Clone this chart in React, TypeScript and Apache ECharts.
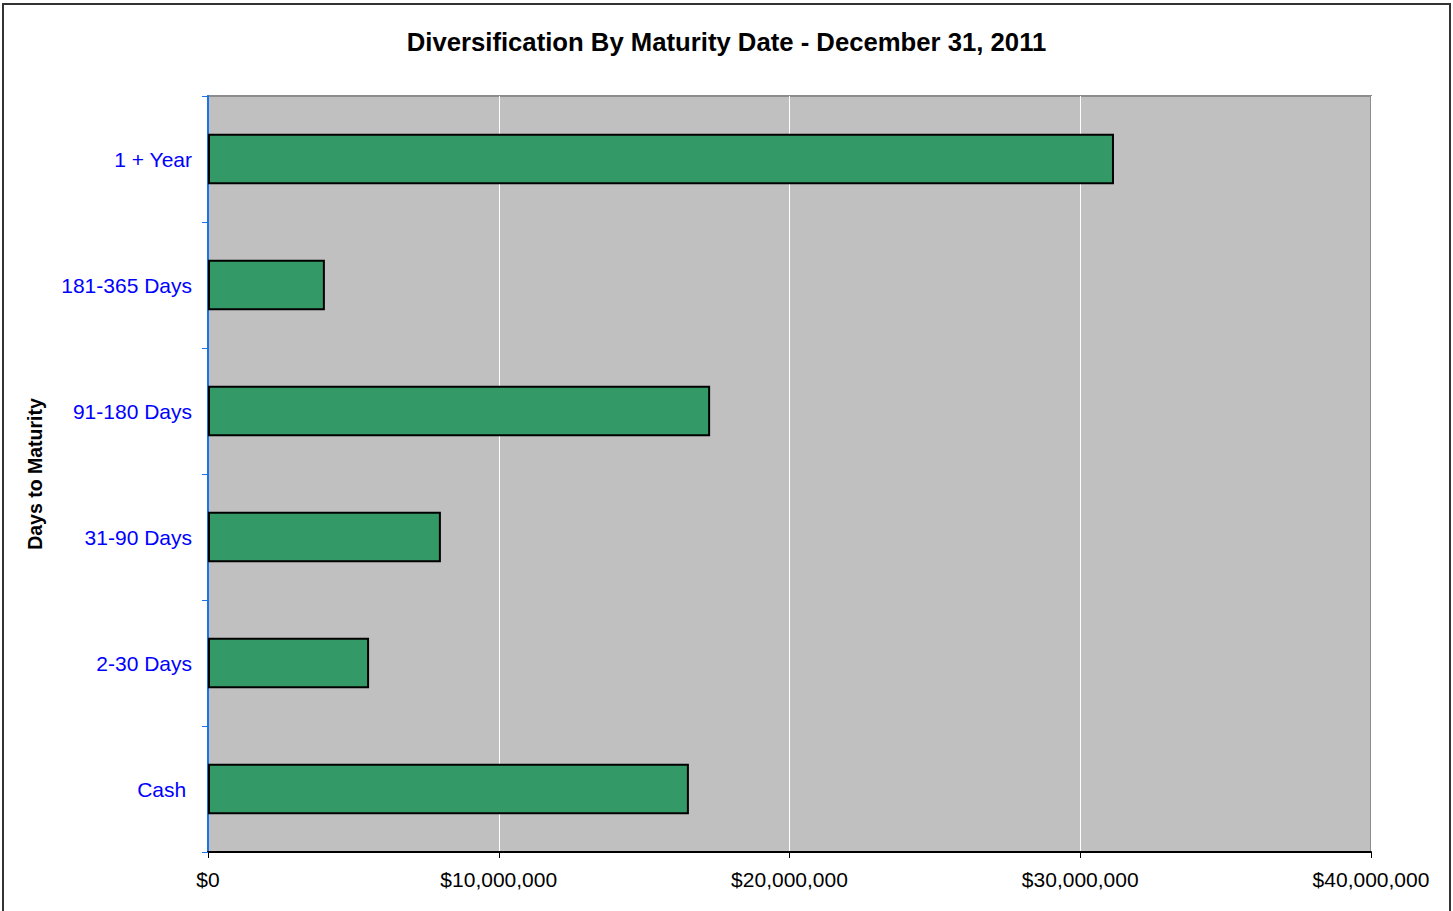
import React, { useEffect, useRef } from "react";
import * as echarts from "echarts";

const categories = ["Cash ", "2-30 Days", "31-90 Days", "91-180 Days", "181-365 Days", "1 + Year"];
const values = [16540000, 5540000, 8010000, 17270000, 4020000, 31160000];
const xTicks = [0, 10000000, 20000000, 30000000, 40000000];

const fmt = (v: number) => "$" + v.toLocaleString("en-US");

export default function App() {
  const ref = useRef<HTMLDivElement>(null);
  useEffect(() => {
    document.body.style.margin = "0";
    const chart = echarts.init(ref.current!, null, { renderer: "svg" });
    chart.setOption({
      animation: false,
      backgroundColor: "#ffffff",
      title: {
        text: "Diversification By Maturity Date - December 31, 2011",
        left: "center",
        top: 24,
        textStyle: { fontFamily: "Liberation Sans", fontSize: 25.7, fontWeight: "bold", color: "#000" },
      },
      graphic: [
        {
          type: "rect",
          shape: { x: 3, y: 4, width: 1447, height: 920 },
          style: { fill: "none", stroke: "#333333", lineWidth: 2 },
          silent: true,
        },
      ],
      grid: {
        left: 208,
        right: 82,
        top: 96,
        bottom: 59,
        show: true,
        backgroundColor: "#c0c0c0",
        borderColor: "#8c8c8c",
        borderWidth: 2,
      },
      xAxis: {
        type: "value",
        min: xTicks[0],
        max: xTicks[xTicks.length - 1],
        interval: xTicks[1] - xTicks[0],
        axisLine: { show: true, lineStyle: { color: "#000", width: 2 } },
        axisTick: { show: true, length: 6, lineStyle: { color: "#000" } },
        splitLine: { show: true, lineStyle: { color: "#ffffff", width: 1 } },
        axisLabel: {
          formatter: (v: number) => fmt(v),
          color: "#000",
          fontFamily: "Liberation Sans",
          fontSize: 21,
          margin: 17,
        },
      },
      yAxis: {
        type: "category",
        data: categories,
        name: "Days to Maturity",
        nameLocation: "middle",
        nameGap: 163,
        nameTextStyle: { fontFamily: "Liberation Sans", fontSize: 19.5, fontWeight: "bold", color: "#000" },
        axisLine: { show: true, lineStyle: { color: "#1a73e8", width: 2 } },
        axisTick: { show: true, length: 6, lineStyle: { color: "#1a73e8" } },
        axisLabel: {
          color: "#0000ff",
          fontFamily: "Liberation Sans",
          fontSize: 21,
          margin: 16,
        },
        splitLine: { show: false },
      },
      series: [
        {
          type: "bar",
          data: values,
          barCategoryGap: "60%",
          itemStyle: { color: "#339966", borderColor: "#000", borderWidth: 2 },
        },
      ],
    });
    return () => chart.dispose();
  }, []);
  return <div ref={ref} style={{ width: 1453, height: 911 }} />;
}
